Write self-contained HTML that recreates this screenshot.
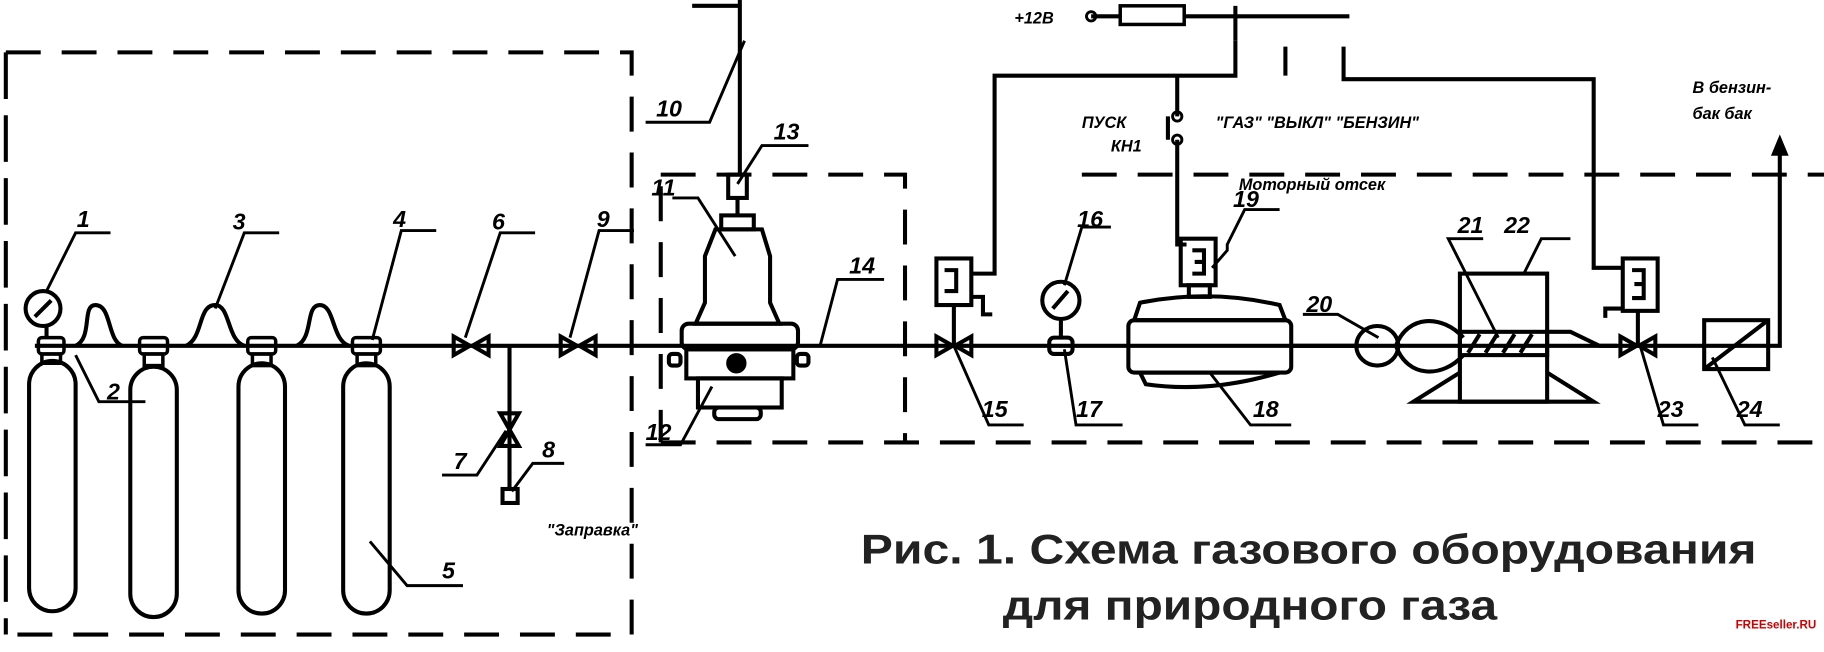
<!DOCTYPE html>
<html><head><meta charset="utf-8"><style>
html,body{margin:0;padding:0;background:#fff;width:1824px;height:652px;overflow:hidden}
svg{display:block}
text{font-family:"Liberation Sans","DejaVu Sans",sans-serif}
.l{font-style:italic;font-size:20px;font-weight:bold}
.s{font-style:italic;font-size:14px;font-weight:bold}
</style></head><body>
<svg width="1824" height="652" viewBox="0 0 1568 560" preserveAspectRatio="none" xmlns="http://www.w3.org/2000/svg">
<g fill="none" stroke="#000" stroke-width="3.5">
<g stroke-dasharray="30,18">
<path d="M5 45 H543 V545 H5"/>
<path d="M568 150 H778 V380"/>
<path d="M568 160 V380"/>
<path d="M568 380 H1568"/>
<path d="M930 150 H1568"/>
<path d="M5 45 V545" stroke-dasharray="40,14"/>
</g>
<path d="M30 297 H1530 V120"/>
<path d="M1530 120 l-5 12 h10 z" fill="#000"/>
<rect x="25" y="310" width="40" height="215" rx="20"/>
<rect x="112" y="315" width="40" height="215" rx="20"/>
<rect x="205" y="312" width="40" height="215" rx="20"/>
<rect x="295" y="312" width="40" height="215" rx="20"/>
<g stroke-width="3">
<rect x="33" y="290" width="22" height="14" rx="3"/><rect x="36" y="304" width="16" height="8"/>
<rect x="120" y="290" width="24" height="14" rx="3"/><rect x="124" y="304" width="16" height="10"/>
<rect x="213" y="290" width="24" height="14" rx="3"/><rect x="217" y="304" width="16" height="10"/>
<rect x="303" y="290" width="24" height="14" rx="3"/><rect x="307" y="304" width="16" height="10"/>
</g>
<circle cx="37" cy="265" r="15"/><path d="M44 258 L30 272"/><path d="M40 280 V290"/>
<path d="M65 297 C80 290 70 262 82 262 C96 262 92 292 105 297"/>
<path d="M160 297 C175 290 170 262 185 262 C198 262 195 292 210 297"/>
<path d="M255 297 C270 290 262 262 275 262 C288 262 285 292 300 297"/>
<path d="M390 289 v16 l14 -8 z M420 289 v16 l-14 -8 z"/>
<path d="M482 289 v16 l14 -8 z M512 289 v16 l-14 -8 z"/>
<path d="M438 297 V420"/>
<path d="M430 355 h16 l-8 14 z M430 383 h16 l-8 -14 z"/>
<rect x="432" y="420" width="13" height="12"/>
<path d="M636 0 V150 M595 5 H636"/>
<rect x="626" y="150" width="16" height="20"/><path d="M634 170 V185"/>
<rect x="620" y="185" width="28" height="12"/>
<path d="M615 197 H655 L662 220 V260 L670 278 H598 L606 260 V220 Z"/>
<rect x="586" y="278" width="100" height="22" rx="6"/>
<rect x="590" y="300" width="92" height="25"/>
<rect x="600" y="325" width="72" height="25"/>
<rect x="614" y="350" width="40" height="10" rx="4"/>
<circle cx="633" cy="312" r="7" fill="#000"/>
<rect x="575" y="304" width="10" height="10" rx="3"/><rect x="685" y="304" width="10" height="10" rx="3"/>
<path d="M938 14 H963 M1018 14 H1160 M1062 5 V35"/>
<circle cx="938" cy="14" r="4" stroke-width="2.5"/>
<rect x="963" y="5" width="55" height="16" stroke-width="3"/>
<path d="M1062 35 V65 H855 V235 H835"/>
<path d="M1105 40 V65 M1155 40 V68 H1370 V230 H1395"/>
<path d="M1012 65 V100 M1012 120 V210 H1020 M1004 100 L1004 120"/>
<circle cx="1012" cy="100" r="4" stroke-width="2.5"/><circle cx="1012" cy="120" r="4" stroke-width="2.5"/>
<rect x="805" y="222" width="30" height="40"/><path d="M812 232 h10 v18 h-10"/>
<path d="M835 255 h10 v15 h8"/>
<path d="M805 289 v16 l14 -8 z M835 289 v16 l-14 -8 z M820 262 V297"/>
<circle cx="912" cy="258" r="16"/><path d="M905 265 L918 250"/><path d="M912 274 V290"/>
<rect x="902" y="290" width="20" height="14" rx="4"/>
<rect x="1015" y="205" width="30" height="40"/><path d="M1025 215 h10 v10 h-8 h8 v10 h-10"/>
<rect x="1022" y="245" width="18" height="10"/>
<path d="M980 260 Q1040 248 1100 262 L1105 275 H975 Z"/>
<rect x="970" y="275" width="140" height="45" rx="5"/>
<path d="M980 320 L1100 320 Q1040 338 985 330 Z"/>
<path d="M1110 297 H1165"/>
<ellipse cx="1184" cy="297" rx="18" ry="17"/>
<path d="M1200 297 C1210 270 1240 270 1258 290 M1200 297 C1210 325 1240 325 1258 305"/>
<rect x="1255" y="235" width="75" height="110"/>
<rect x="1255" y="285" width="75" height="20"/>
<path d="M1262 303 l10 -16 M1277 303 l10 -16 M1292 303 l10 -16 M1307 303 l10 -16"/>
<path d="M1255 320 L1215 345 H1370 L1330 320"/>
<path d="M1330 285 L1350 285 L1375 297 H1390"/>
<rect x="1395" y="222" width="30" height="45"/><path d="M1403 232 h10 v12 h-8 h8 v12 h-10"/>
<path d="M1395 265 h-15 v8"/>
<path d="M1393 289 v16 l14 -8 z M1423 289 v16 l-14 -8 z M1408 267 V297"/>
<rect x="1465" y="275" width="55" height="42"/><path d="M1465 317 L1520 275"/>
<g stroke-width="2.5">
<path d="M40 250 L65 200 H95"/>
<path d="M65 305 L85 345 H125"/>
<path d="M185 265 L210 200 H240"/>
<path d="M320 292 L345 198 H375"/>
<path d="M400 290 L430 200 H460"/>
<path d="M490 290 L515 198 H545"/>
<path d="M435 370 L410 408 H380"/>
<path d="M440 422 L458 398 H485"/>
<path d="M640 35 L610 105 H555"/>
<path d="M634 158 L655 125 H695"/>
<path d="M632 220 L600 170 H578"/>
<path d="M612 332 L585 382 H555"/>
<path d="M705 297 L720 240 H760"/>
<path d="M318 465 L350 503 H398"/>
<path d="M820 297 L850 365 H880"/>
<path d="M915 300 L925 365 H965"/>
<path d="M1040 320 L1075 365 H1110"/>
<path d="M915 245 L930 195 H955"/>
<path d="M1042 230 L1055 215 V210 L1070 180 H1100"/>
<path d="M1185 290 L1150 270 H1120"/>
<path d="M1288 290 L1245 205 H1275"/>
<path d="M1310 235 L1325 205 H1350"/>
<path d="M1410 297 L1430 365 H1460"/>
<path d="M1472 307 L1500 365 H1530"/>
</g>
</g>
<g>
<text class="l" x="66" y="195">1</text>
<text class="l" x="92" y="343">2</text>
<text class="l" x="200" y="197">3</text>
<text class="l" x="338" y="195">4</text>
<text class="l" x="423" y="197">6</text>
<text class="l" x="513" y="195">9</text>
<text class="l" x="390" y="403">7</text>
<text class="l" x="466" y="393">8</text>
<text class="l" x="380" y="497">5</text>
<text class="l" x="564" y="100">10</text>
<text class="l" x="665" y="120">13</text>
<text class="l" x="560" y="168">11</text>
<text class="l" x="555" y="378">12</text>
<text class="l" x="730" y="235">14</text>
<text class="l" x="844" y="358">15</text>
<text class="l" x="926" y="195">16</text>
<text class="l" x="925" y="358">17</text>
<text class="l" x="1077" y="358">18</text>
<text class="l" x="1060" y="178">19</text>
<text class="l" x="1123" y="268">20</text>
<text class="l" x="1253" y="200">21</text>
<text class="l" x="1293" y="200">22</text>
<text class="l" x="1425" y="358">23</text>
<text class="l" x="1493" y="358">24</text>
<text class="s" x="470" y="460">"Заправка"</text>
<text class="s" x="872" y="20" font-size="16">+12В</text>
<text class="s" x="930" y="110">ПУСК</text>
<text class="s" x="955" y="130">КН1</text>
<text class="s" x="1045" y="110">"ГАЗ" "ВЫКЛ" "БЕНЗИН"</text>
<text class="s" x="1065" y="163">Моторный отсек</text>
<text class="s" x="1455" y="80">В бензин-</text>
<text class="s" x="1455" y="102">бак бак</text>
<text x="740" y="484" font-size="36" font-weight="bold" fill="#222" textLength="770" lengthAdjust="spacingAndGlyphs">Рис. 1. Схема газового оборудования</text>
<text x="862" y="532" font-size="36" font-weight="bold" fill="#222" textLength="425" lengthAdjust="spacingAndGlyphs">для природного газа</text>
<text x="1492" y="540" font-size="10" font-weight="bold" fill="#c00">FREEseller.RU</text>
</g>
</svg>
</body></html>
